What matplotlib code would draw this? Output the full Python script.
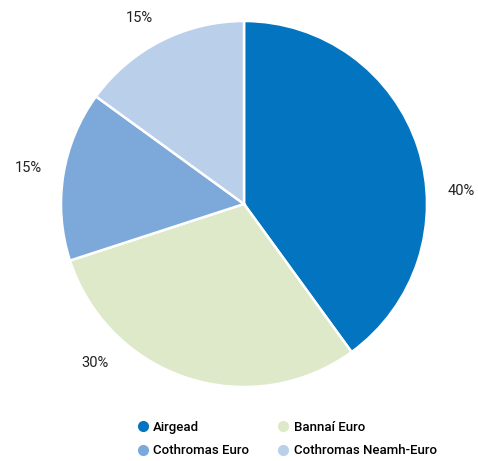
import matplotlib.pyplot as plt
from matplotlib.lines import Line2D

plt.rcParams['font.family'] = ['Roboto', 'DejaVu Sans']

# Dados
categorias = ['Airgead', 'Bannaí Euro', 'Cothromas Euro', 'Cothromas Neamh-Euro']
valores = [40, 30, 15, 15]
cores = ['#0375c0', '#dde9c8', '#7ca9d9', '#bacfea']
rotulos = ['40%', '30%', '15%', '15%']

fig = plt.figure(figsize=(4.78, 4.61), dpi=100)
ax = fig.add_axes([61 / 478, 74 / 461, 366 / 478, 366 / 461])

ax.pie(valores, colors=cores, startangle=90, counterclock=False, radius=1,
       wedgeprops=dict(edgecolor='white', linewidth=1.8))
ax.set_xlim(-1, 1)
ax.set_ylim(-1, 1)
ax.set_aspect('equal')
ax.axis('off')

# Posições dos rótulos (fora da pizza)
pos_rotulos = [(1.186, 0.071), (-0.814, -0.869), (-1.18, 0.197), (-0.574, 1.016)]
for txt, (x, y) in zip(rotulos, pos_rotulos):
    ax.text(x, y, txt, ha='center', va='center', fontsize=10.5, color='#222222',
            clip_on=False)

# Legenda (ordem em colunas)
ordem = [0, 2, 1, 3]
handles = [Line2D([], [], marker='o', linestyle='', markersize=7,
                  markerfacecolor=cores[i], markeredgecolor=cores[i]) for i in ordem]
fig.legend(handles, [categorias[i] for i in ordem], ncol=2, frameon=False,
           loc='lower left', bbox_to_anchor=(123 / 478, -0.018),
           handlelength=1.2, handletextpad=0.2, columnspacing=1.95,
           labelspacing=0.8,
           prop={'family': ['Roboto', 'DejaVu Sans'],
                 'weight': 'medium', 'size': 9.5})

fig.savefig('out.png', dpi=100)
